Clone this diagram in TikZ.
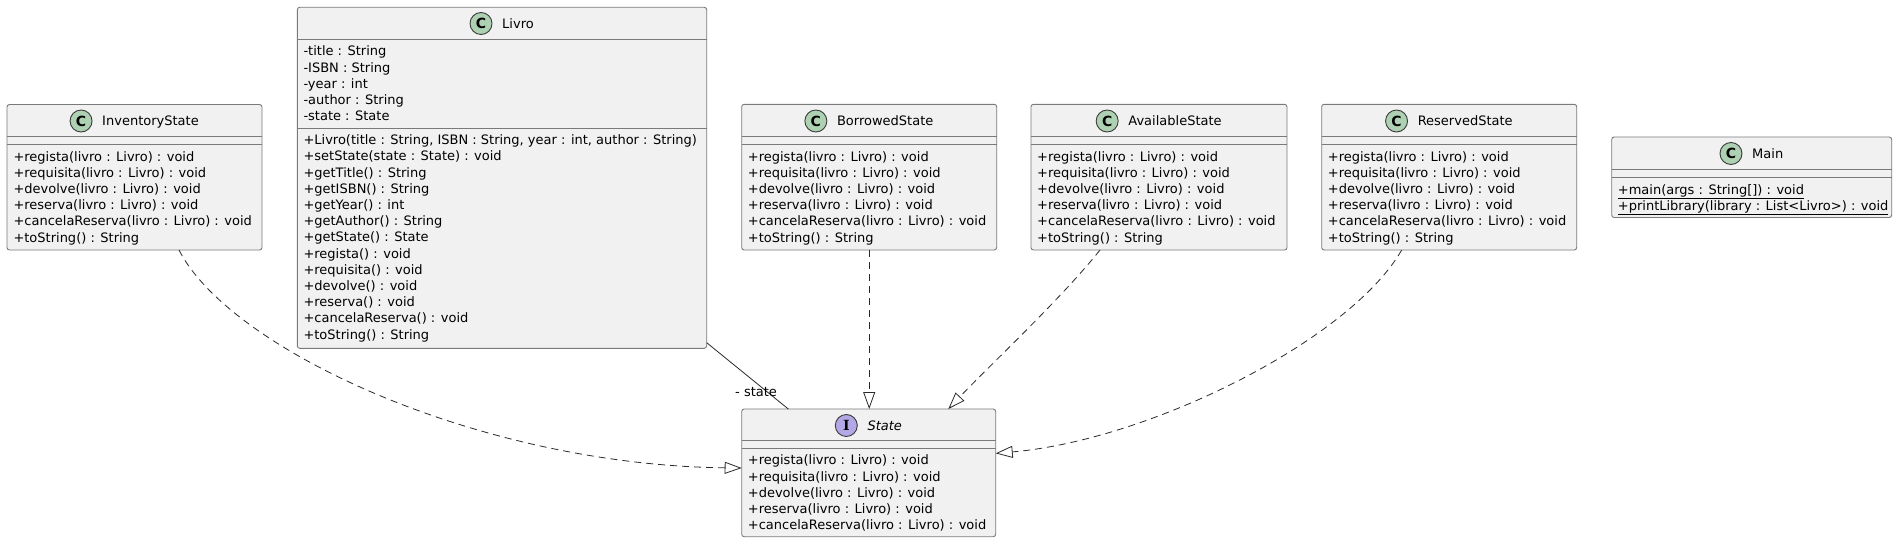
\documentclass[tikz,border=0pt]{standalone}
\usepackage{fontspec}
\setmainfont{DejaVu Sans}
\newfontfamily\iconserif{DejaVu Serif}
\usetikzlibrary{arrows.meta,calc}
\definecolor{boxfill}{HTML}{F1F1F1}
\definecolor{boxline}{HTML}{7A7A7A}
\definecolor{iconline}{HTML}{3A3A3A}
\definecolor{connline}{HTML}{2A2A2A}
\definecolor{cfill}{HTML}{ADD1B2}
\definecolor{ifill}{HTML}{B4A7E5}
\newcommand\umlbox[7]{%
  \node[classbox, anchor=north west, minimum width={#4-#2}, minimum height={#5-#3}] (#1) at (#2,#3) {};
  \draw[sepline] (#2,#6) -- (#4,#6);
  \draw[sepline] (#2,#7) -- (#4,#7);
}
\newcommand\umlhead[6]{%
  \node[titletext] (#1-title) at (#2+16,#3) {#6};
  \node[iconcircle, fill=#4] (#1-icon) at ([xshift=-21pt]#1-title.west) {#5};
}
\newcommand\umlmembers[5]{%
  \foreach \m [count=\i from 0] in {#5} {\node[member] (#1-\i) at (#2, #3+\i*#4) {\m};}
}
\begin{document}
\begin{tikzpicture}[x=1pt,y=-1pt,
  classbox/.style={draw=boxline, line width=0.9pt, fill=boxfill, rounded corners=2.5pt, inner sep=0pt, outer sep=0pt},
  sepline/.style={draw=boxline, line width=0.9pt},
  titletext/.style={font=\fontsize{13}{15}\selectfont, inner sep=0pt, text height=9.5pt, text depth=0pt},
  member/.style={font=\fontsize{13}{15}\selectfont, inner sep=0pt, anchor=base west},
  iconcircle/.style={circle, draw=iconline, line width=0.9pt, minimum size=22pt, inner sep=0pt, font=\fontsize{14}{14}\selectfont\bfseries},
  conn/.style={draw=connline, line width=0.8pt},
  realize/.style={conn, dash pattern=on 7pt off 5pt, -{Triangle[open, length=17pt, width=12pt]}},
  lbl/.style={font=\fontsize{13}{15}\selectfont, inner sep=0pt},
]
\fill[white] (0,0) rectangle (1898,543);
\useasboundingbox (0,0) rectangle (1898,543);

% InventoryState
\umlbox{inv}{7}{104.5}{262}{250}{136.7}{144.3}
\umlhead{inv}{134.5}{121}{cfill}{C}{InventoryState}
\umlmembers{inv-m}{13.3}{161}{16.2}{{+regista(livro : Livro) : void},{+requisita(livro : Livro) : void},{+devolve(livro : Livro) : void},{+reserva(livro : Livro) : void},{+cancelaReserva(livro : Livro) : void},{+toString() : String}}

% Livro
\umlbox{livro}{297.3}{7.3}{706.7}{348.3}{39.3}{128}
\umlhead{livro}{502}{23.5}{cfill}{C}{Livro}
\umlmembers{livro-a}{303.3}{56}{16.25}{{-title : String},{-ISBN : String},{-year : int},{-author : String},{-state : State}}
\umlmembers{livro-m}{303.3}{144.7}{16.2}{{+Livro(title : String, ISBN : String, year : int, author : String)},{+setState(state : State) : void},{+getTitle() : String},{+getISBN() : String},{+getYear() : int},{+getAuthor() : String},{+getState() : State},{+regista() : void},{+requisita() : void},{+devolve() : void},{+reserva() : void},{+cancelaReserva() : void},{+toString() : String}}

% BorrowedState
\umlbox{borrowed}{741.7}{104.3}{996.7}{250}{136.7}{144.3}
\umlhead{borrowed}{869.2}{121}{cfill}{C}{BorrowedState}
\umlmembers{borrowed-m}{747.7}{161}{16.2}{{+regista(livro : Livro) : void},{+requisita(livro : Livro) : void},{+devolve(livro : Livro) : void},{+reserva(livro : Livro) : void},{+cancelaReserva(livro : Livro) : void},{+toString() : String}}

% AvailableState
\umlbox{available}{1031}{104.3}{1287}{250}{136.7}{144.3}
\umlhead{available}{1159}{121}{cfill}{C}{AvailableState}
\umlmembers{available-m}{1037}{161}{16.2}{{+regista(livro : Livro) : void},{+requisita(livro : Livro) : void},{+devolve(livro : Livro) : void},{+reserva(livro : Livro) : void},{+cancelaReserva(livro : Livro) : void},{+toString() : String}}

% ReservedState
\umlbox{reserved}{1321.7}{104.3}{1576.7}{250}{136.7}{144.3}
\umlhead{reserved}{1449.2}{121}{cfill}{C}{ReservedState}
\umlmembers{reserved-m}{1327.7}{161}{16.2}{{+regista(livro : Livro) : void},{+requisita(livro : Livro) : void},{+devolve(livro : Livro) : void},{+reserva(livro : Livro) : void},{+cancelaReserva(livro : Livro) : void},{+toString() : String}}

% Main
\umlbox{main}{1611.7}{137}{1891.7}{217.5}{169.5}{177.3}
\umlhead{main}{1751.7}{153.5}{cfill}{C}{Main}
\umlmembers{main-m}{1617.7}{194}{16.2}{{\underline{+main(args : String[]) : void}},{\underline{+printLibrary(library : List<Livro>) : void}}}

% State (interface)
\umlbox{state}{741.7}{409}{995.7}{536.7}{440.7}{448.3}
\umlhead{state}{868.7}{425.5}{ifill}{{\iconserif\bfseries I}}{\itshape State}
\umlmembers{state-m}{747.7}{464.8}{16.2}{{+regista(livro : Livro) : void},{+requisita(livro : Livro) : void},{+devolve(livro : Livro) : void},{+reserva(livro : Livro) : void},{+cancelaReserva(livro : Livro) : void}}

% connectors
\draw[realize] ([xshift=44.5pt]inv.south) .. controls (230,350) and (480,465) .. ([yshift=4.85pt]state.west);
\draw[realize] (borrowed.south) -- (borrowed.south |- state.north);
\draw[realize] ([xshift=-59pt]available.south) .. controls (1060,300) and (990,365) .. ([xshift=79.6pt]state.north);
\draw[realize] ([xshift=-47.5pt]reserved.south) .. controls (1350,340) and (1150,440) .. ([yshift=19.5pt]state.east);
\draw[conn] ([yshift=5.6pt]livro.south east) -- ([xshift=-80.4pt]state.north);
\node[lbl, anchor=base west] (statelbl) at (735,396) {- state};
\end{tikzpicture}
\end{document}
